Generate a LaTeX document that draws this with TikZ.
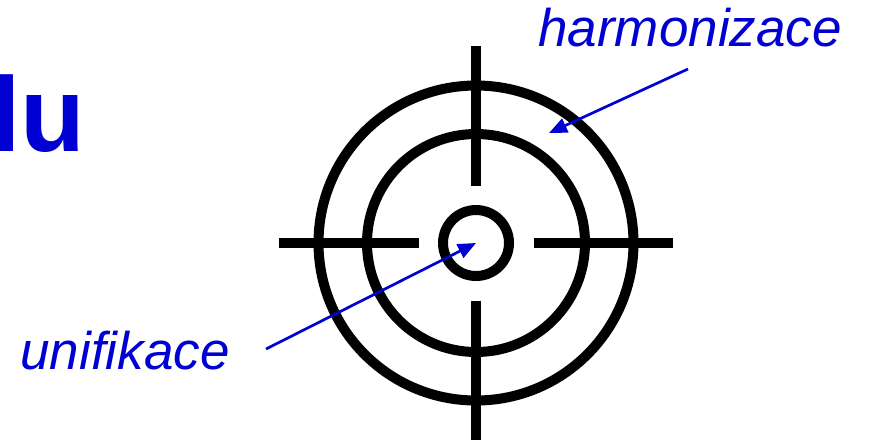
\documentclass[tikz,border=0pt]{standalone}
\usepackage{fontspec}
\setmainfont{Liberation Sans}
\usetikzlibrary{arrows.meta}
\definecolor{labelblue}{RGB}{0,0,210}

\begin{document}
\begin{tikzpicture}[x=0.5pt,y=-0.5pt]
	\useasboundingbox (0,0) rectangle (871,441);
	\clip (0,0) rectangle (871,441);
	\begin{scope}[every node/.style={inner sep=0,anchor=base west,text=labelblue}]
	\node (lu) at (-9,151) {\fontsize{53pt}{60pt}\selectfont\bfseries lu};
	\node (harm) at (538,46) {\fontsize{26.5pt}{30pt}\selectfont\itshape harmonizace};
	\node (unif) at (20,369) {\fontsize{26.5pt}{30pt}\selectfont\itshape unifikace};
	\end{scope}
	\coordinate (C) at (476,243);
	\draw [line width=5pt] (C) circle (78.75pt);
	\draw [line width=5pt] (C) circle (54.5pt);
	\draw [line width=5pt] (C) circle (16.5pt);
	\foreach \a in {0,90,180,270}
		\draw [line width=5pt, shift={(C)}] (\a:28.75pt) -- (\a:98.5pt);
	\coordinate (harmtail) at (688,69);
	\coordinate (harmtip) at (549,133);
	\coordinate (uniftail) at (266,349);
	\draw [line width=1.35pt, labelblue, -{Triangle[length=9pt,width=7.5pt]}] (harmtail) -- (harmtip);
	\draw [line width=1.35pt, labelblue, -{Triangle[length=9pt,width=7.5pt]}] (uniftail) -- (C);
\end{tikzpicture}
\end{document}
